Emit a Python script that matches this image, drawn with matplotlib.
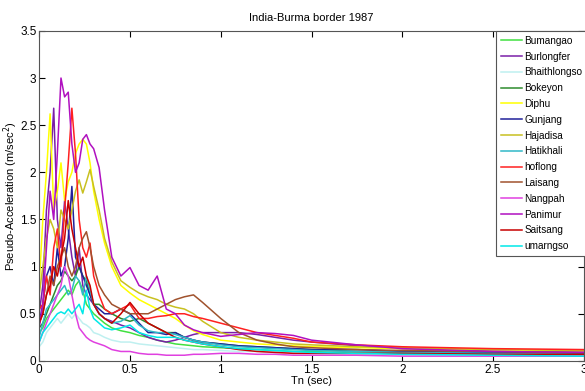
import numpy as np
import matplotlib.pyplot as plt

plt.rcParams['font.family'] = ['Liberation Sans', 'DejaVu Sans']

# periods (sec)
T = [0, 0.02, 0.04, 0.06, 0.08, 0.10, 0.12, 0.14, 0.16, 0.18, 0.20, 0.22, 0.24,
     0.26, 0.28, 0.30, 0.33, 0.36, 0.40, 0.45, 0.50, 0.55, 0.60, 0.65, 0.70,
     0.75, 0.80, 0.85, 0.90, 1.0, 1.1, 1.2, 1.3, 1.4, 1.5, 1.75, 2.0, 2.5, 3.0]

names = ['Bumangao', 'Burlongfer', 'Bhaithlongso', 'Bokeyon', 'Diphu', 'Gunjang',
         'Hajadisa', 'Hatikhali', 'hoflong', 'Laisang', 'Nangpah', 'Panimur',
         'Saitsang', 'umarngso']
colors = ['#40e040', '#7a1fa8', '#bff0f0', '#2e8b2e', '#ffff00', '#20209a',
          '#c8c020', '#30b8c8', '#ff2020', '#a0522d', '#e040e0', '#b010c0',
          '#c80000', '#00e8e8']

bumangao = [0.3, 0.35, 0.45, 0.5, 0.55, 0.6, 0.65, 0.7, 0.75, 0.7, 0.8, 0.85, 0.75, 0.6, 0.55, 0.5, 0.45, 0.4, 0.35, 0.32, 0.3, 0.27, 0.25, 0.22, 0.2, 0.18, 0.17, 0.16, 0.15, 0.14, 0.13, 0.12, 0.11, 0.1, 0.1, 0.08, 0.07, 0.06, 0.06]
burlongfer = [0.5, 0.8, 1.6, 2.0, 2.68, 1.5, 1.2, 1.7, 1.4, 1.1, 0.9, 1.2, 0.8, 0.7, 0.65, 0.6, 0.5, 0.45, 0.42, 0.38, 0.35, 0.3, 0.25, 0.22, 0.2, 0.22, 0.25, 0.28, 0.3, 0.3, 0.3, 0.28, 0.25, 0.22, 0.2, 0.16, 0.13, 0.1, 0.09]
bhaithlongso = [0.15, 0.2, 0.3, 0.35, 0.4, 0.45, 0.4, 0.45, 0.5, 0.45, 0.5, 0.45, 0.4, 0.38, 0.35, 0.3, 0.28, 0.25, 0.22, 0.2, 0.2, 0.18, 0.17, 0.16, 0.15, 0.14, 0.13, 0.12, 0.12, 0.11, 0.1, 0.1, 0.09, 0.09, 0.08, 0.07, 0.06, 0.06, 0.05]
bokeyon = [0.35, 0.4, 0.5, 0.6, 0.7, 0.8, 0.85, 0.95, 0.9, 0.85, 0.9, 1.0, 0.9, 0.85, 0.7, 0.6, 0.6, 0.55, 0.5, 0.45, 0.42, 0.45, 0.4, 0.35, 0.3, 0.3, 0.25, 0.22, 0.2, 0.18, 0.16, 0.15, 0.14, 0.13, 0.12, 0.1, 0.09, 0.08, 0.07]
diphu = [0.8, 1.5, 2.0, 2.62, 1.6, 1.8, 2.1, 1.7, 1.9, 2.0, 2.2, 2.3, 2.35, 2.3, 2.1, 1.8, 1.5, 1.25, 1.0, 0.8, 0.72, 0.65, 0.6, 0.55, 0.5, 0.45, 0.38, 0.32, 0.28, 0.22, 0.2, 0.18, 0.17, 0.16, 0.15, 0.14, 0.13, 0.12, 0.11]
gunjang = [0.4, 0.6, 0.9, 1.0, 0.8, 1.2, 0.9, 1.0, 1.3, 1.85, 1.1, 1.0, 0.9, 0.8, 0.7, 0.6, 0.55, 0.5, 0.5, 0.55, 0.5, 0.4, 0.3, 0.3, 0.28, 0.3, 0.25, 0.22, 0.2, 0.18, 0.16, 0.15, 0.14, 0.13, 0.12, 0.12, 0.1, 0.09, 0.08]
hajadisa = [0.7, 1.0, 1.3, 1.5, 1.4, 1.2, 1.6, 1.5, 1.4, 1.6, 1.8, 1.92, 1.78, 1.9, 2.03, 1.85, 1.6, 1.3, 1.05, 0.85, 0.78, 0.72, 0.68, 0.65, 0.6, 0.57, 0.55, 0.5, 0.42, 0.3, 0.25, 0.22, 0.2, 0.18, 0.17, 0.15, 0.14, 0.12, 0.11]
hatikhali = [0.25, 0.4, 0.55, 0.6, 0.65, 0.7, 0.75, 0.8, 0.7, 0.75, 0.9, 0.85, 0.7, 0.9, 0.75, 0.6, 0.5, 0.45, 0.4, 0.42, 0.48, 0.38, 0.32, 0.3, 0.3, 0.28, 0.25, 0.22, 0.2, 0.17, 0.15, 0.14, 0.13, 0.12, 0.11, 0.1, 0.09, 0.08, 0.07]
hoflong = [0.55, 0.6, 0.9, 0.7, 1.2, 1.4, 1.0, 1.6, 2.1, 2.68, 2.2, 1.5, 1.2, 1.1, 1.25, 0.9, 0.7, 0.55, 0.5, 0.55, 0.6, 0.45, 0.45, 0.47, 0.48, 0.5, 0.5, 0.47, 0.45, 0.4, 0.35, 0.3, 0.27, 0.24, 0.2, 0.17, 0.15, 0.13, 0.12]
laisang = [0.4, 0.5, 0.7, 0.9, 0.8, 1.0, 1.1, 1.2, 1.0, 0.9, 1.0, 1.2, 1.3, 1.37, 1.2, 1.0, 0.8, 0.7, 0.6, 0.55, 0.5, 0.5, 0.5, 0.55, 0.6, 0.65, 0.68, 0.7, 0.62, 0.45, 0.3, 0.22, 0.18, 0.15, 0.14, 0.12, 0.11, 0.1, 0.09]
nangpah = [0.2, 0.3, 0.4, 0.5, 0.6, 0.7, 0.8, 1.0, 0.9, 0.7, 0.5, 0.35, 0.3, 0.25, 0.22, 0.2, 0.18, 0.16, 0.12, 0.1, 0.1, 0.08, 0.07, 0.07, 0.06, 0.06, 0.06, 0.07, 0.07, 0.08, 0.08, 0.07, 0.07, 0.06, 0.06, 0.06, 0.05, 0.05, 0.05]
panimur = [0.35, 0.6, 1.2, 1.8, 1.5, 2.2, 3.0, 2.8, 2.85, 2.3, 2.0, 2.1, 2.35, 2.4, 2.3, 2.25, 2.05, 1.6, 1.1, 0.9, 0.99, 0.8, 0.75, 0.9, 0.55, 0.5, 0.38, 0.33, 0.3, 0.26, 0.28, 0.3, 0.29, 0.27, 0.22, 0.17, 0.13, 0.1, 0.09]
saitsang = [0.4, 0.5, 0.7, 0.8, 1.0, 0.9, 1.1, 1.3, 1.7, 1.4, 1.2, 1.0, 1.1, 0.9, 0.8, 0.6, 0.5, 0.45, 0.4, 0.5, 0.62, 0.5, 0.4, 0.35, 0.3, 0.25, 0.22, 0.2, 0.18, 0.15, 0.12, 0.1, 0.09, 0.08, 0.08, 0.08, 0.08, 0.07, 0.07]
umarngso = [0.2, 0.3, 0.35, 0.4, 0.45, 0.5, 0.52, 0.5, 0.55, 0.5, 0.55, 0.6, 0.5, 0.75, 0.55, 0.45, 0.4, 0.35, 0.33, 0.35, 0.38, 0.3, 0.27, 0.25, 0.25, 0.25, 0.22, 0.2, 0.18, 0.15, 0.13, 0.12, 0.11, 0.1, 0.09, 0.08, 0.07, 0.06, 0.05]

series = [bumangao, burlongfer, bhaithlongso, bokeyon, diphu, gunjang, hajadisa,
          hatikhali, hoflong, laisang, nangpah, panimur, saitsang, umarngso]

fig = plt.figure(figsize=(5.85, 3.91), dpi=100)
ax = fig.add_axes([0.067, 0.077, 0.931, 0.844])

for s, n, c in zip(series, names, colors):
    ax.plot(T, s, color=c, lw=1.1, label=n)

ax.set_xlim(0, 3)
ax.set_ylim(0, 3.5)
ax.set_xticks([0, 0.5, 1, 1.5, 2, 2.5, 3])
ax.set_xticklabels(['0', '0.5', '1', '1.5', '2', '2.5', '3'])
ax.set_yticks([0, 0.5, 1, 1.5, 2, 2.5, 3, 3.5])
ax.set_yticklabels(['0', '0.5', '1', '1.5', '2', '2.5', '3', '3.5'])
ax.tick_params(direction='in', top=True, right=True, labelsize=8.5, length=4, pad=2)
for sp in ax.spines.values():
    sp.set_color('#555555')
    sp.set_linewidth(0.8)

ax.set_title('India-Burma border 1987', fontsize=8, pad=7)
ax.set_xlabel('Tn (sec)', fontsize=8, labelpad=0)
ax.set_ylabel(r'Pseudo-Acceleration (m/sec$^2$)', fontsize=8)
ax.yaxis.set_label_coords(-0.035, 0.5)

leg = ax.legend(loc='upper left', bbox_to_anchor=(0.848, 0.92),
                bbox_transform=fig.transFigure, fontsize=7.2, frameon=True,
                fancybox=False, edgecolor='#555555', framealpha=1,
                handlelength=2.1, labelspacing=0.58, borderpad=0.45,
                handletextpad=0.3, borderaxespad=0)
leg.get_frame().set_linewidth(0.8)

fig.savefig('out.png', dpi=100)
